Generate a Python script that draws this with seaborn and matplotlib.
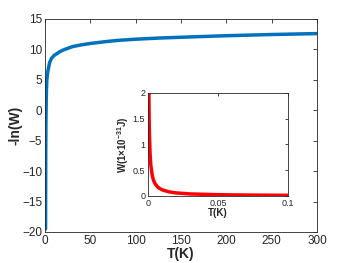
import matplotlib
matplotlib.use("Agg")
import matplotlib.pyplot as plt
import seaborn as sns
import pandas as pd

# main curve: -ln(W) vs T
T_main = [0.6, 0.8, 1, 1.5, 2, 3, 5, 7, 10, 16, 20, 30, 40, 50, 65, 80, 100, 125, 150, 200, 250, 300]
lnW_main = [-19.5, -8, -2, 3, 5, 6.3, 7.8, 8.5, 9.0, 9.6, 9.9, 10.45, 10.75, 10.98, 11.25, 11.48, 11.68, 11.86, 12.0, 12.25, 12.45, 12.6]

# inset: W (1e-31 J) vs T
T_inset = [0.0006, 0.0008, 0.001, 0.0015, 0.002, 0.003, 0.004, 0.005, 0.007, 0.01, 0.015, 0.02, 0.03, 0.05, 0.07, 0.1]
W_inset = [2.1, 1.5, 1.2, 0.8, 0.6, 0.4, 0.3, 0.24, 0.17, 0.12, 0.08, 0.06, 0.04, 0.025, 0.018, 0.013]

main_df = pd.DataFrame({"T": T_main, "y": lnW_main})
inset_df = pd.DataFrame({"T": T_inset, "W": W_inset})

sns.set_style("white")
plt.rcParams['font.family'] = ['Liberation Sans', 'DejaVu Sans']
plt.rcParams['mathtext.fontset'] = 'custom'
plt.rcParams['mathtext.rm'] = 'Liberation Sans'
plt.rcParams['mathtext.bf'] = 'Liberation Sans:bold'
plt.rcParams['axes.edgecolor'] = '#262626'
plt.rcParams['xtick.color'] = '#262626'
plt.rcParams['ytick.color'] = '#262626'

fig = plt.figure(figsize=(3.5, 2.63), dpi=100)
ax = fig.add_axes([0.1286, 0.1179, 0.7771, 0.8099])
sns.lineplot(data=main_df, x="T", y="y", ax=ax, color="#0072BD", linewidth=2.5)
ax.set_xlim(0, 300)
ax.set_ylim(-20, 15)
ax.set_xticks([0, 50, 100, 150, 200, 250, 300])
ax.set_yticks(range(-20, 16, 5))
ax.set_xlabel("T(K)", fontsize=10, fontweight="bold", labelpad=0)
ax.set_ylabel("-ln(W)", fontsize=10, fontweight="bold", labelpad=0)
ax.tick_params(direction="in", length=3, width=0.6, labelsize=8.5, top=True, right=True, pad=2)
for s in ax.spines.values():
    s.set_linewidth(0.6)

axin = fig.add_axes([0.4229, 0.2548, 0.4, 0.3916])
sns.lineplot(data=inset_df, x="T", y="W", ax=axin, color="red", linewidth=2.5)
axin.set_xlim(0, 0.1)
axin.set_ylim(0, 2)
axin.set_xticks([0, 0.05, 0.1])
axin.set_xticklabels(["0", "0.05", "0.1"])
axin.set_yticks([0, 0.5, 1, 1.5, 2])
axin.set_yticklabels(["0", "0.5", "1", "1.5", "2"])
axin.set_xlabel("T(K)", fontsize=7, fontweight="bold", labelpad=0)
axin.set_ylabel(r"W(1$\mathbf{\times}$10$^{\mathbf{-31}}$J)", fontsize=7, fontweight="bold", labelpad=1)
axin.tick_params(direction="in", length=2, width=0.6, labelsize=6.5, top=True, right=True, pad=2)
for s in axin.spines.values():
    s.set_linewidth(0.6)

fig.savefig("out.png", dpi=100)
